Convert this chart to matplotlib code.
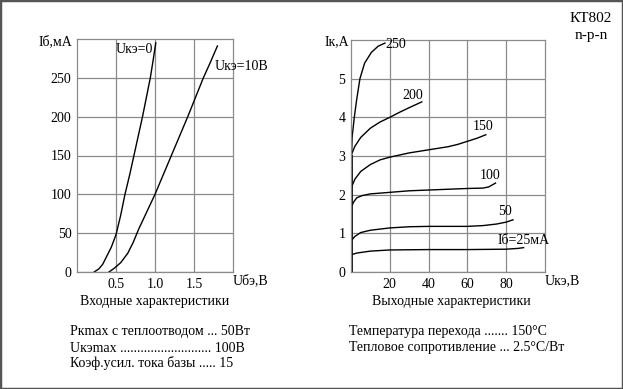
import matplotlib.pyplot as plt
from matplotlib.patches import Rectangle

plt.rcParams['font.family'] = ['Liberation Serif', 'DejaVu Serif']
plt.rcParams['font.size'] = 10

# входные характеристики
ube_0 = [0.22, 0.28, 0.33, 0.38, 0.44, 0.5, 0.56, 0.615, 0.675, 0.73, 0.785, 0.84, 0.89, 0.94, 0.975, 1.01]
ib_0 = [0, 4, 10, 20, 32, 48, 73, 100, 125, 150, 175, 200, 225, 250, 272, 295]
ube_10 = [0.41, 0.48, 0.56, 0.65, 0.72, 0.79, 0.86, 0.93, 1.0, 1.105, 1.21, 1.315, 1.42, 1.52, 1.62, 1.71, 1.80]
ib_10 = [0, 5, 12, 24, 38, 55, 70, 85, 100, 125, 150, 175, 200, 225, 250, 270, 291]

# выходные характеристики (Uкэ, Iк) для каждого Iб
out_curves = {
    '250': ([0.3, 0.6, 1.7, 2.9, 4.6, 7, 10.5, 14, 17.5],
            [3.0, 3.5, 4.0, 4.45, 5.0, 5.4, 5.68, 5.84, 5.92]),
    '200': ([0.3, 2, 5, 10, 15, 20, 25, 30, 36.5],
            [3.05, 3.25, 3.48, 3.72, 3.88, 4.0, 4.13, 4.25, 4.4]),
    '150': ([0.3, 2, 5, 10, 15, 20, 30, 40, 50, 55, 60, 65, 69.5],
            [2.2, 2.4, 2.6, 2.78, 2.9, 2.97, 3.08, 3.16, 3.24, 3.3, 3.38, 3.46, 3.55]),
    '100': ([0.3, 1.5, 3, 6, 10, 20, 30, 40, 50, 60, 68, 71, 74.5],
            [1.7, 1.82, 1.92, 1.98, 2.02, 2.06, 2.1, 2.12, 2.14, 2.16, 2.17, 2.2, 2.3]),
    '50': ([0.3, 2, 5, 10, 20, 30, 40, 50, 60, 68, 75, 80, 83.5],
           [0.82, 0.92, 1.02, 1.08, 1.14, 1.17, 1.18, 1.18, 1.18, 1.2, 1.24, 1.29, 1.35]),
    'Iб=25мА': ([0.3, 3, 10, 20, 40, 60, 80, 86, 89],
                [0.45, 0.49, 0.54, 0.57, 0.58, 0.58, 0.59, 0.61, 0.63]),
}
label_pos = {'250': (23, 5.88), '200': (32, 4.57), '150': (68, 3.76),
             '100': (71.5, 2.5), '50': (79.5, 1.56), 'Iб=25мА': (89, 0.82)}

W, H = 623, 389
fig = plt.figure(figsize=(W / 100, H / 100), dpi=100)

grid_c = '#8a8a8a'

def style(ax):
    ax.grid(True, color=grid_c, lw=0.9)
    for s in ax.spines.values():
        s.set_color(grid_c)
        s.set_linewidth(0.9)
    ax.tick_params(length=0, pad=4, labelsize=10)

ax1 = fig.add_axes([77 / W, (H - 272) / H, 156 / W, 233 / H])
ax1.plot(ube_0, ib_0, color='black', lw=1)
ax1.plot(ube_10, ib_10, color='black', lw=1)
ax1.set_xlim(0, 2)
ax1.set_ylim(0, 300)
ax1.set_xticks([0.5, 1.0, 1.5])
ax1.set_xticklabels(['0.5', '1.0', '1.5'])
ax1.set_yticks([0, 50, 100, 150, 200, 250])
style(ax1)
ax1.text(0.5, 286, 'Uкэ=0', va='center', ha='left', fontsize=10)
ax1.text(1.77, 264, 'Uкэ=10В', va='center', ha='left', fontsize=10)

ax2 = fig.add_axes([351 / W, (H - 272) / H, 194 / W, 232 / H])
ax2.plot([0.3, 0.3], [0, 3.0], color='black', lw=1.3)
for name, (u, i) in out_curves.items():
    ax2.plot(u, i, color='black', lw=1)
    x, y = label_pos[name]
    ax2.text(x, y, name, ha='center', va='center', fontsize=10)
ax2.set_xlim(0, 100)
ax2.set_ylim(0, 6)
ax2.set_xticks([20, 40, 60, 80])
ax2.set_yticks([0, 1, 2, 3, 4, 5])
style(ax2)

def ft(x, y, s, **kw):
    fig.text(x / W, 1 - y / H, s, va='center', **kw)

ft(72, 42, 'Iб,мА', ha='right', fontsize=10)
ft(233, 281, 'Uбэ,В', ha='left', fontsize=10)
ft(349, 42, 'Iк,А', ha='right', fontsize=10)
ft(545, 281, 'Uкэ,В', ha='left', fontsize=10)
ft(591, 18, 'КТ802', ha='center', fontsize=11)
ft(591, 35, 'n-p-n', ha='center', fontsize=11)

ft(155, 302, 'Входные характеристики', ha='center', fontsize=10)
ft(451, 302, 'Выходные характеристики', ha='center', fontsize=10)
ft(70, 332, 'Pкmax с теплоотводом ... 50Вт', ha='left', fontsize=10)
ft(70, 348, 'Uкэmax ........................... 100В', ha='left', fontsize=10)
ft(70, 363, 'Коэф.усил. тока базы ..... 15', ha='left', fontsize=10)
ft(349, 332, 'Температура перехода ....... 150°C', ha='left', fontsize=10)
ft(349, 347, 'Тепловое сопротивление ... 2.5°C/Вт', ha='left', fontsize=10)

fig.patches.append(Rectangle((0, 0), 1, 1, transform=fig.transFigure,
                             fill=False, edgecolor='#555555', lw=2.5))

fig.savefig('out.png', dpi=100)
